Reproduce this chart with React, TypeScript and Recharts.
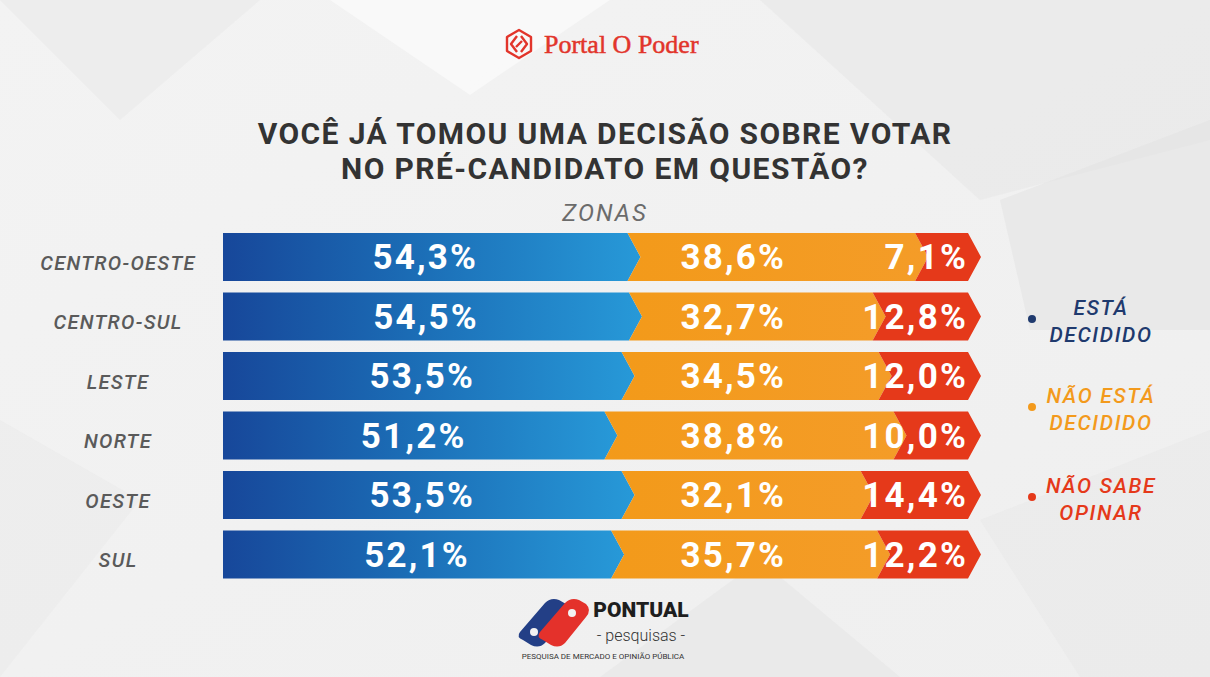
import { BarChart, Bar, XAxis, YAxis, LabelList } from 'recharts';

// Zonas (categorias) e percentuais de cada resposta
const zonas = ['CENTRO-OESTE', 'CENTRO-SUL', 'LESTE', 'NORTE', 'OESTE', 'SUL'];
const decidido = [54.3, 54.5, 53.5, 51.2, 53.5, 52.1];
const naoDecidido = [38.6, 32.7, 34.5, 38.8, 32.1, 35.7];
const naoSabe = [7.1, 12.8, 12.0, 10.0, 14.4, 12.2];

const legendItems = [
  { lines: ['ESTÁ', 'DECIDIDO'], color: '#1f3a6e' },
  { lines: ['NÃO ESTÁ', 'DECIDIDO'], color: '#f39a1c' },
  { lines: ['NÃO SABE', 'OPINAR'], color: '#e5391a' },
];

const W = 1210;
const H = 677;
const PLOT_LEFT = 223;
const PLOT_RIGHT = 968;
const TIP = 13;

const fmt = (v: number) => v.toFixed(1).replace('.', ',') + '%';

const chartData = zonas.map((zona, i) => ({
  zona,
  decidido: decidido[i],
  naoDecidido: naoDecidido[i],
  naoSabe: naoSabe[i],
}));

// arrow shaped segment: pointed right end, notched left end (except first)
const arrowShape = (notch: boolean) => (props: any) => {
  const { x, y, width, height, fill } = props;
  const m = y + height / 2;
  const n = notch ? TIP : 0;
  const d = `M${x},${y} L${x + width},${y} L${x + width + TIP},${m} L${x + width},${y + height} L${x},${y + height} L${x + n},${m} Z`;
  return <path d={d} fill={fill} />;
};

const valueLabel = (mode: 'center' | 'fixed' | 'right') => (props: any) => {
  const { x, y, width, height, value } = props;
  let tx = x + width / 2;
  let anchor: 'middle' | 'end' = 'middle';
  if (mode === 'fixed') tx = PLOT_LEFT + (PLOT_RIGHT - PLOT_LEFT) * 0.685;
  if (mode === 'right') {
    tx = x + width;
    anchor = 'end';
  }
  return (
    <text
      x={tx}
      y={y + height / 2 + 12}
      textAnchor={anchor}
      fill='#ffffff'
      fontFamily='Roboto'
      fontWeight={700}
      fontSize={35}
      letterSpacing={2.2}
    >
      {fmt(value)}
    </text>
  );
};

const ZonaTick = (props: any) => {
  const { y, payload } = props;
  return (
    <text
      x={118}
      y={y + 13}
      textAnchor='middle'
      fill='#5a5a5a'
      fontFamily='Roboto'
      fontStyle='italic'
      fontWeight={500}
      fontSize={20}
      letterSpacing={1.3}
    >
      {payload.value}
    </text>
  );
};

const Background = () => (
  <svg width={W} height={H} style={{ position: 'absolute', left: 0, top: 0 }}>
    <defs>
      <linearGradient id='bg' x1='0' y1='0' x2='1' y2='1'>
        <stop offset='0' stopColor='#f3f3f3' />
        <stop offset='1' stopColor='#efefef' />
      </linearGradient>
    </defs>
    <rect width={W} height={H} fill='url(#bg)' />
    <polygon points='0,0 260,0 120,120' fill='#e9e9e9' opacity={0.6} />
    <polygon points='330,0 610,0 470,95' fill='#ffffff' opacity={0.5} />
    <polygon points='760,0 1210,0 1210,140 980,200' fill='#e6e6e6' opacity={0.55} />
    <polygon points='1000,200 1210,120 1210,330 1030,330' fill='#e2e2e2' opacity={0.5} />
    <polygon points='0,420 140,500 0,677' fill='#e9e9e9' opacity={0.5} />
    <polygon points='600,677 760,560 900,677' fill='#e6e6e6' opacity={0.6} />
    <polygon points='980,520 1210,430 1210,677 1080,677' fill='#e8e8e8' opacity={0.5} />
  </svg>
);

const Overlay = () => (
  <svg width={W} height={H} style={{ position: 'absolute', left: 0, top: 0, pointerEvents: 'none' }}>
    {/* Portal O Poder */}
    <g transform='translate(519,44)' fill='none' stroke='#e2352b' strokeWidth={2.4} strokeLinejoin='round'>
      <polygon points='0,-14 12,-7 12,7 0,14 -12,7 -12,-7' />
      <path d='M-2,-8 L-8,0 L-2,8 M2,-8 L8,0 L2,8 M-3,3 L3,-3' />
    </g>
    <text x={544} y={53} fill='#e2352b' stroke='#e2352b' strokeWidth={0.5} fontFamily='Liberation Serif' fontSize={26}>
      Portal O Poder
    </text>

    {/* title */}
    <text x={605} y={144} textAnchor='middle' fill='#333333' fontFamily='Roboto' fontWeight={700} fontSize={30} letterSpacing={1.4}>
      VOCÊ JÁ TOMOU UMA DECISÃO SOBRE VOTAR
    </text>
    <text x={605} y={179} textAnchor='middle' fill='#333333' fontFamily='Roboto' fontWeight={700} fontSize={30} letterSpacing={1.4}>
      NO PRÉ-CANDIDATO EM QUESTÃO?
    </text>
    <text x={605} y={221} textAnchor='middle' fill='#6b6b6b' fontFamily='Roboto' fontStyle='italic' fontSize={24} letterSpacing={2}>
      ZONAS
    </text>

    {/* legend */}
    {legendItems.map((item, i) => {
      const base = [315, 403, 493][i];
      return (
        <g key={i}>
          <circle cx={1032} cy={base + 4} r={4} fill={item.color} />
          {item.lines.map((ln, j) => (
            <text
              key={j}
              x={1101}
              y={base + j * 27}
              textAnchor='middle'
              fill={item.color}
              fontFamily='Roboto'
              fontStyle='italic'
              fontWeight={500}
              fontSize={21}
              letterSpacing={1.6}
            >
              {ln}
            </text>
          ))}
        </g>
      );
    })}

    {/* Pontual pesquisas */}
    <g>
      <path d='M520,632 L545,603 Q551,597 559,600 L566,604 Q572,610 566,617 L545,643 Q539,649 531,645 L523,640 Q516,637 520,632 Z' fill='#233f86' />
      <path d='M540,632 L565,603 Q571,597 579,600 L586,604 Q592,610 586,617 L565,643 Q559,649 551,645 L543,640 Q536,637 540,632 Z' fill='#e4312b' />
      <circle cx={534} cy={632} r={4} fill='#f2f2f2' />
      <circle cx={572} cy={613} r={4} fill='#f2f2f2' />
    </g>
    <text x={641} y={617} textAnchor='middle' fill='#1e1e1e' fontFamily='Roboto' fontWeight={900} fontSize={21}>
      PONTUAL
    </text>
    <text x={641} y={641} textAnchor='middle' fill='#333333' fontFamily='Roboto' fontWeight={300} fontSize={16}>
      - pesquisas -
    </text>
    <text x={603} y={659} textAnchor='middle' fill='#333333' fontFamily='Roboto' fontSize={8}>
      PESQUISA DE MERCADO E OPINIÃO PÚBLICA
    </text>
  </svg>
);

export default function App() {
  return (
    <div style={{ position: 'absolute', left: 0, top: 0, width: W, height: H, overflow: 'hidden' }}>
      <Background />
      <div style={{ position: 'absolute', left: 0, top: 0 }}>
        <BarChart
          width={W}
          height={H}
          data={chartData}
          layout='vertical'
          margin={{ top: 227, right: W - PLOT_RIGHT, bottom: 93, left: 0 }}
          barSize={48}
        >
          <defs>
            <linearGradient id='blueGrad' x1='0' y1='0' x2='1' y2='0'>
              <stop offset='0' stopColor='#17479a' />
              <stop offset='0.45' stopColor='#1b6cb5' />
              <stop offset='1' stopColor='#2799d8' />
            </linearGradient>
            <linearGradient id='orangeGrad' x1='0' y1='0' x2='1' y2='0'>
              <stop offset='0' stopColor='#f39a1a' />
              <stop offset='1' stopColor='#f49c28' />
            </linearGradient>
          </defs>
          <XAxis type='number' domain={[0, 100]} hide />
          <YAxis
            type='category'
            dataKey='zona'
            width={PLOT_LEFT}
            axisLine={false}
            tickLine={false}
            tick={<ZonaTick />}
          />
          <Bar dataKey='decidido' stackId='a' fill='url(#blueGrad)' shape={arrowShape(false)} isAnimationActive={false}>
            <LabelList dataKey='decidido' content={valueLabel('center')} />
          </Bar>
          <Bar dataKey='naoDecidido' stackId='a' fill='url(#orangeGrad)' shape={arrowShape(true)} isAnimationActive={false}>
            <LabelList dataKey='naoDecidido' content={valueLabel('fixed')} />
          </Bar>
          <Bar dataKey='naoSabe' stackId='a' fill='#e5391a' shape={arrowShape(true)} isAnimationActive={false}>
            <LabelList dataKey='naoSabe' content={valueLabel('right')} />
          </Bar>
        </BarChart>
      </div>
      <Overlay />
    </div>
  );
}
